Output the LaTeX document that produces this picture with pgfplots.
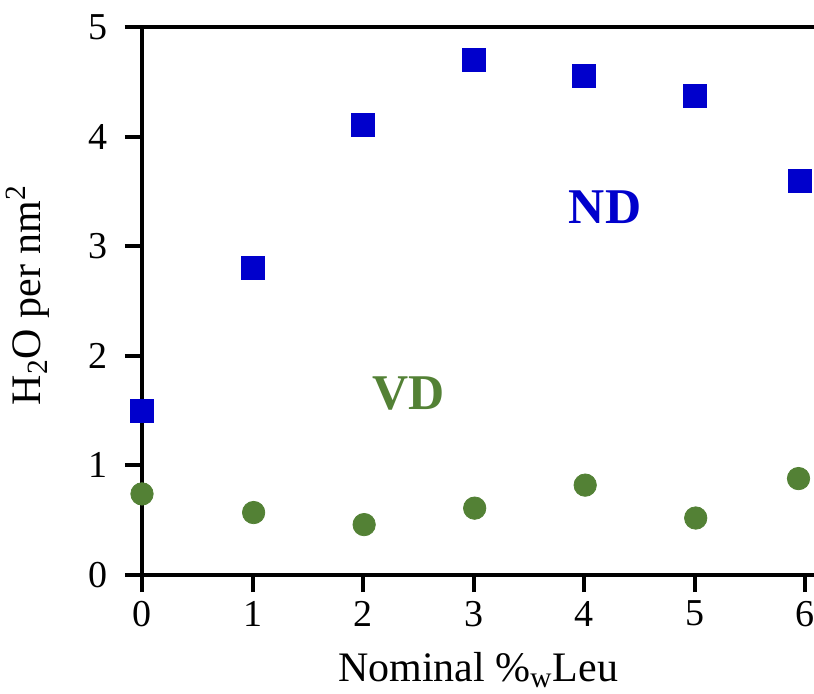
\documentclass[border=0pt]{standalone}
\usepackage{pgfplots}
\pgfplotsset{compat=1.18}
\usepackage{fontspec}
\setmainfont{Liberation Serif}
\definecolor{ndblue}{HTML}{0000CC}
\definecolor{vdgreen}{HTML}{538135}
\begin{document}
\begin{tikzpicture}
\begin{axis}[
  at={(0,0)}, anchor=south west,
  scale only axis,
  width=336pt, height=274pt,
  xmin=0, xmax=6.08, ymin=0, ymax=5,
  axis x line*=bottom, axis y line*=left,
  axis line style={line width=2pt, -},
  xtick={0,1,2,3,4,5,6}, ytick={0,1,2,3,4,5},
  tick align=outside, major tick length=8.5pt,
  tick style={line width=2pt, black},
  /pgf/number format/assume math mode=true,
  tick label style={font=\fontsize{19}{22}\selectfont},
  xticklabel style={yshift=-1pt},
  yticklabel style={xshift=-5pt},
  xlabel={Nominal \%\textsubscript{w}Leu},
  ylabel={H\textsubscript{2}O per nm\textsuperscript{2}},
  label style={font=\fontsize{21}{24}\selectfont},
  xlabel style={at={([yshift=-53pt]axis description cs:0.5,0)}, anchor=base},
  ylabel style={at={([xshift=-57pt,yshift=3pt]axis description cs:0,0.5)}, anchor=center},
  clip=false,
]
\addplot[only marks, mark=square*, mark size=5.75pt, color=ndblue] coordinates {
 (0,1.50) (1,2.80) (2,4.11) (3,4.70) (4,4.55) (5,4.37) (5.95,3.60)
};
\addplot[only marks, mark=*, mark size=5.6pt, color=vdgreen] coordinates {
 (0,0.74) (1.01,0.57) (2.01,0.46) (3.01,0.61) (4.01,0.82) (5.01,0.52) (5.94,0.88)
};
\draw[line width=2pt] (axis cs:0,5) ++(-8.5pt,0) -- (axis cs:6.08,5);
\node[font=\fontsize{25}{28}\bfseries, text=ndblue] at (axis cs:4.19,3.36) {ND};
\node[font=\fontsize{25}{28}\bfseries, text=vdgreen] at (axis cs:2.41,1.66) {VD};
\end{axis}
\pgfresetboundingbox
\path (-71pt,-59pt) rectangle (336pt,287.5pt);
\end{tikzpicture}
\end{document}
